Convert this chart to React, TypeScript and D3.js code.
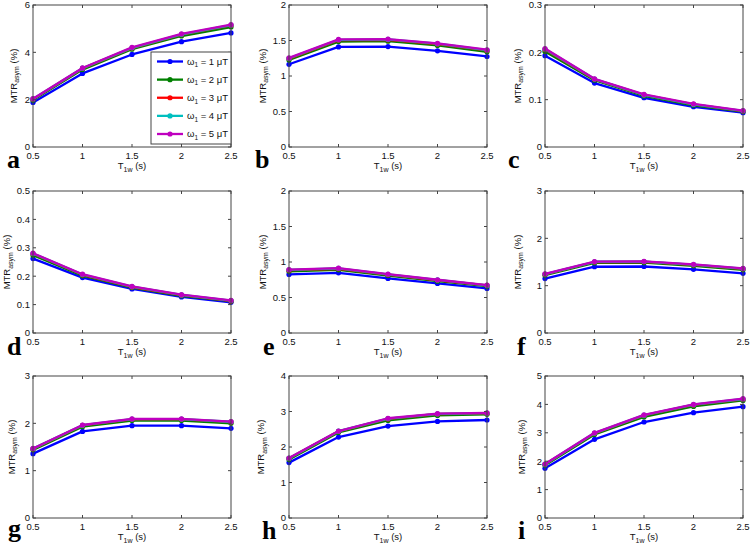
import React from "react";
import * as d3 from "d3";

// ---------- data ----------
const T1W = [0.5, 1, 1.5, 2, 2.5];
const B1_VALUES = [1, 2, 3, 4, 5];
const PANEL_LETTERS = ["a", "b", "c", "d", "e", "f", "g", "h", "i"];
const Y_MAX = [6, 2, 0.3, 0.5, 2, 3, 3, 4, 5];
const Y_TICKS = [
  [0, 2, 4, 6],
  [0, 0.5, 1, 1.5, 2],
  [0, 0.1, 0.2, 0.3],
  [0, 0.1, 0.2, 0.3, 0.4, 0.5],
  [0, 0.5, 1, 1.5, 2],
  [0, 1, 2, 3],
  [0, 1, 2, 3],
  [0, 1, 2, 3, 4],
  [0, 1, 2, 3, 4, 5],
];
const X_TICKS = [0.5, 1, 1.5, 2, 2.5];

// series order: ω1 = 1,2,3,4,5 µT
const panelA = [
  [1.88, 3.11, 3.91, 4.45, 4.82],
  [1.98, 3.27, 4.13, 4.69, 5.07],
  [2.02, 3.32, 4.18, 4.75, 5.14],
  [2.03, 3.33, 4.19, 4.76, 5.15],
  [2.04, 3.34, 4.21, 4.78, 5.17],
];
const panelB = [
  [1.165, 1.41, 1.415, 1.355, 1.275],
  [1.225, 1.485, 1.49, 1.43, 1.34],
  [1.245, 1.505, 1.51, 1.45, 1.36],
  [1.25, 1.51, 1.515, 1.455, 1.365],
  [1.255, 1.515, 1.52, 1.46, 1.37],
];
const panelC = [
  [0.193, 0.135, 0.104, 0.085, 0.0725],
  [0.202, 0.141, 0.108, 0.088, 0.075],
  [0.206, 0.143, 0.11, 0.09, 0.076],
  [0.207, 0.1435, 0.11, 0.09, 0.0765],
  [0.208, 0.144, 0.111, 0.091, 0.077],
];
const panelD = [
  [0.262, 0.195, 0.155, 0.127, 0.108],
  [0.274, 0.202, 0.16, 0.131, 0.112],
  [0.279, 0.205, 0.162, 0.133, 0.113],
  [0.28, 0.206, 0.163, 0.134, 0.114],
  [0.281, 0.207, 0.164, 0.135, 0.115],
];
const panelE = [
  [0.825, 0.848, 0.768, 0.698, 0.628],
  [0.87, 0.89, 0.81, 0.73, 0.66],
  [0.885, 0.905, 0.822, 0.743, 0.67],
  [0.89, 0.91, 0.826, 0.747, 0.672],
  [0.893, 0.913, 0.829, 0.75, 0.675],
];
const panelF = [
  [1.15, 1.4, 1.405, 1.345, 1.26],
  [1.22, 1.48, 1.485, 1.42, 1.335],
  [1.24, 1.5, 1.505, 1.44, 1.355],
  [1.245, 1.505, 1.51, 1.445, 1.36],
  [1.25, 1.51, 1.515, 1.45, 1.365],
];
const panelG = [
  [1.36, 1.83, 1.95, 1.95, 1.895],
  [1.44, 1.93, 2.06, 2.06, 2.0],
  [1.46, 1.955, 2.085, 2.085, 2.03],
  [1.465, 1.96, 2.09, 2.09, 2.033],
  [1.47, 1.965, 2.095, 2.095, 2.037],
];
const panelH = [
  [1.56, 2.28, 2.59, 2.72, 2.76],
  [1.65, 2.41, 2.75, 2.89, 2.92],
  [1.68, 2.44, 2.79, 2.93, 2.95],
  [1.685, 2.445, 2.8, 2.935, 2.955],
  [1.69, 2.45, 2.81, 2.94, 2.96],
];
const panelI = [
  [1.75, 2.77, 3.38, 3.71, 3.92],
  [1.86, 2.94, 3.56, 3.93, 4.14],
  [1.89, 2.98, 3.61, 3.98, 4.18],
  [1.895, 2.99, 3.62, 3.99, 4.19],
  [1.9, 3.0, 3.63, 4.0, 4.2],
];
const PANEL_DATA = [panelA, panelB, panelC, panelD, panelE, panelF, panelG, panelH, panelI];

// ---------- style / layout ----------
const COLORS = ["#0000ff", "#008000", "#ff0000", "#00bfbf", "#bf00bf"];
const COL_LEFT = [33, 289, 545];
const ROW_TOP = [5, 191, 376];
const AX_W = 198;
const AX_H = 142;
// y-label baseline offset from axis left, panel letter offsets (dx from axis left, dy from axis bottom)
const YLABEL_OFF = [16.5, 23.5, 24.5, 23, 23.5, 24.5, 18.5, 25, 20.5];
const LETTER_POS = [
  [-26, 21], [-34, 21], [-37, 21],
  [-26, 22], [-26, 22], [-28, 22],
  [-25, 19], [-27, 21], [-27, 21],
];
const SANS = "'Liberation Sans', Arial, Helvetica, sans-serif";
const SERIF = "'Liberation Serif', 'Times New Roman', serif";
const AXIS_COLOR = "#444";
const TICK_LEN = 3;

const fmt = (v: number) => String(+v.toFixed(3));

function Panel({ idx }: { idx: number }) {
  const col = idx % 3;
  const row = Math.floor(idx / 3);
  const left = COL_LEFT[col];
  const top = ROW_TOP[row];
  const right = left + AX_W;
  const bottom = top + AX_H;
  const x = d3.scaleLinear().domain([0.5, 2.5]).range([left, right]);
  const y = d3.scaleLinear().domain([0, Y_MAX[idx]]).range([bottom, top]);
  const line = d3
    .line<number>()
    .x((_, i) => x(T1W[i]))
    .y((d) => y(d));
  const data = PANEL_DATA[idx];
  const cy = (top + bottom) / 2;
  const ylx = left - YLABEL_OFF[idx];
  const [ldx, ldy] = LETTER_POS[idx];

  return (
    <g>
      <rect x={left} y={top} width={AX_W} height={AX_H} fill="#fff" />
      {data.map((s, si) => (
        <g key={si}>
          <path d={line(s) || ""} fill="none" stroke={COLORS[si]} strokeWidth={2.3} strokeLinejoin="round" />
          {s.map((v, i) => (
            <circle key={i} cx={x(T1W[i])} cy={y(v)} r={2.6} fill={COLORS[si]} />
          ))}
        </g>
      ))}
      <rect x={left} y={top} width={AX_W} height={AX_H} fill="none" stroke={AXIS_COLOR} strokeWidth={1} />
      {X_TICKS.map((t) => (
        <g key={"x" + t}>
          <line x1={x(t)} x2={x(t)} y1={bottom} y2={bottom - TICK_LEN} stroke={AXIS_COLOR} />
          <line x1={x(t)} x2={x(t)} y1={top} y2={top + TICK_LEN} stroke={AXIS_COLOR} />
          <text x={x(t)} y={bottom + 12} textAnchor="middle" fontSize={9.5} fontFamily={SANS} fill="#111">
            {fmt(t)}
          </text>
        </g>
      ))}
      {Y_TICKS[idx].map((t) => (
        <g key={"y" + t}>
          <line x1={left} x2={left + TICK_LEN} y1={y(t)} y2={y(t)} stroke={AXIS_COLOR} />
          <line x1={right} x2={right - TICK_LEN} y1={y(t)} y2={y(t)} stroke={AXIS_COLOR} />
          <text x={left - 3} y={y(t) + 3.3} textAnchor="end" fontSize={9.5} fontFamily={SANS} fill="#111">
            {fmt(t)}
          </text>
        </g>
      ))}
      <text x={(left + right) / 2} y={bottom + 22} textAnchor="middle" fontSize={9.5} fontFamily={SANS} fill="#111">
        <tspan>T</tspan>
        <tspan dy={2.5} fontSize={7}>1w</tspan>
        <tspan dy={-2.5}> (s)</tspan>
      </text>
      <text
        transform={`translate(${ylx},${cy}) rotate(-90)`}
        textAnchor="middle"
        fontSize={9.5}
        fontFamily={SANS}
        fill="#111"
      >
        <tspan>MTR</tspan>
        <tspan dy={2.5} fontSize={7}>asym</tspan>
        <tspan dy={-2.5}> (%)</tspan>
      </text>
      <text x={left + ldx} y={bottom + ldy} fontSize={26} fontWeight="bold" fontFamily={SERIF} fill="#000">
        {PANEL_LETTERS[idx]}
      </text>
    </g>
  );
}

function Legend() {
  const lx = 151;
  const ly = 52;
  const w = 80;
  const h = 92;
  const rowY = d3.scaleLinear().domain([0, 4]).range([ly + 9.5, ly + 82]);
  return (
    <g>
      <rect x={lx} y={ly} width={w} height={h} fill="#fff" stroke={AXIS_COLOR} strokeWidth={1} />
      {B1_VALUES.map((b, i) => (
        <g key={b}>
          <line x1={lx + 6} x2={lx + 32} y1={rowY(i)} y2={rowY(i)} stroke={COLORS[i]} strokeWidth={2.3} />
          <circle cx={lx + 19} cy={rowY(i)} r={2.6} fill={COLORS[i]} />
          <text x={lx + 36} y={rowY(i) + 3.3} fontSize={9.5} fontFamily={SANS} fill="#111">
            <tspan>ω</tspan>
            <tspan dy={2.5} fontSize={6.5}>1</tspan>
            <tspan dy={-2.5}>{` = ${b} μT`}</tspan>
          </text>
        </g>
      ))}
    </g>
  );
}

export default function App() {
  return (
    <svg
      width={750}
      height={547}
      viewBox="0 0 750 547"
      style={{ position: "absolute", left: 0, top: 0, background: "#fff" }}
    >
      <rect width={750} height={547} fill="#fff" />
      {PANEL_DATA.map((_, i) => (
        <Panel key={i} idx={i} />
      ))}
      <Legend />
    </svg>
  );
}
